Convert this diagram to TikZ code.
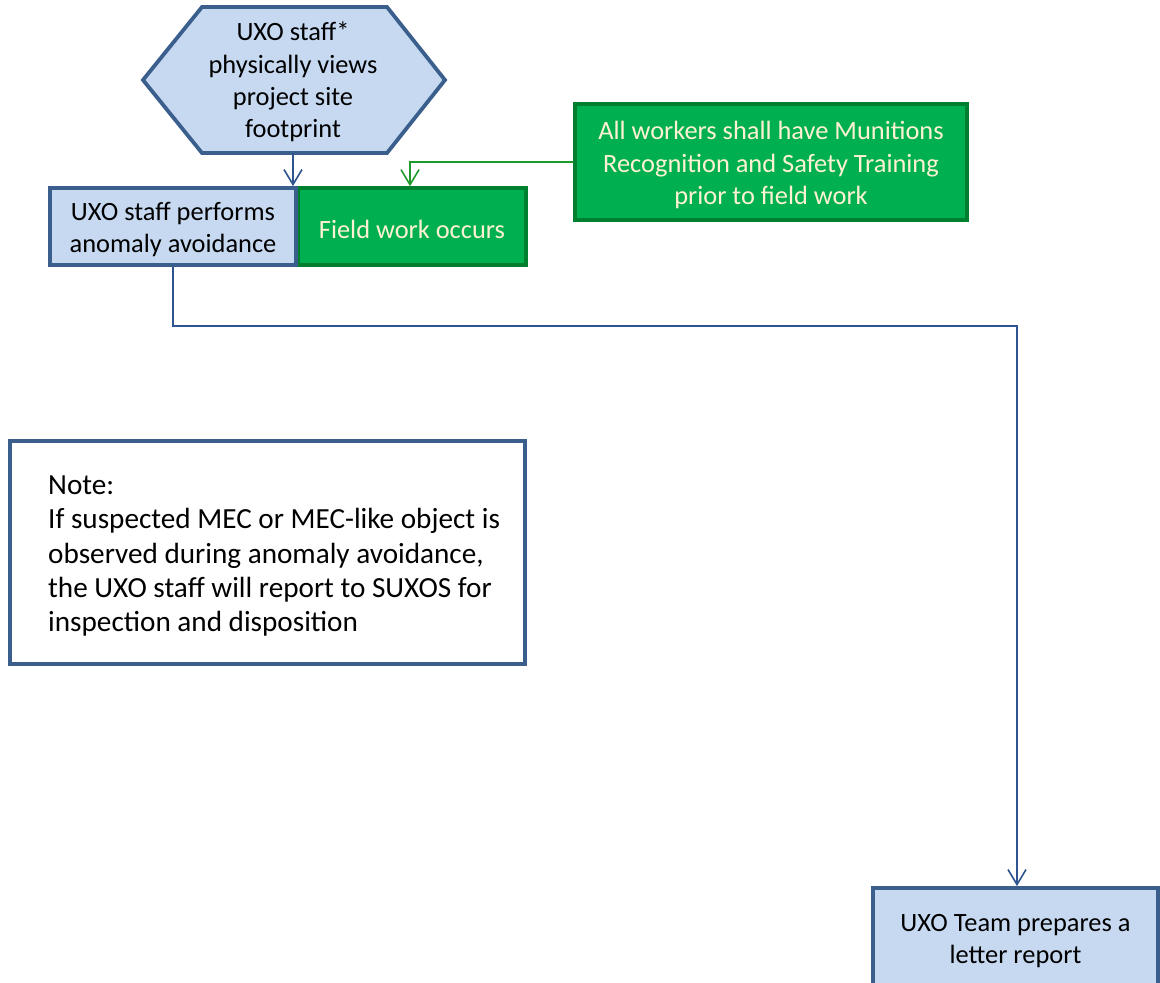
\documentclass[tikz,border=0pt]{standalone}
\usepackage{fontspec}
\setmainfont{Carlito}
\usetikzlibrary{arrows.meta}
\definecolor{bborder}{HTML}{3A5F8C}
\definecolor{bfill}{HTML}{C6D9F1}
\definecolor{gfill}{HTML}{00B050}
\definecolor{gborder}{HTML}{00802F}
\definecolor{gline}{HTML}{1E9A2A}
\definecolor{gtext}{HTML}{FFF2D4}
\definecolor{bline}{HTML}{2F5590}
\newcommand{\lowerline}{\rule{0pt}{24.5pt}}
\tikzset{
  boxfont/.style={font=\fontsize{26.4}{32.2}\selectfont},
  bluebox/.style={draw=bborder, fill=bfill, line width=3.8pt, boxfont, align=center, inner sep=0pt, text=black},
  greenbox/.style={draw=gborder, fill=gfill, line width=3.6pt, boxfont, align=center, inner sep=0pt, text=gtext},
  notebox/.style={draw=bborder, fill=white, line width=3.8pt, inner sep=0pt},
  notetxt/.style={font=\fontsize{29.2}{34.3}\selectfont, align=left, inner sep=0pt, text=black},
  bluearrow/.style={draw=bline, line width=1.6pt, -{Straight Barb[length=15pt,width=18pt,line width=1.6pt]}},
  greenarrow/.style={draw=gline, line width=1.6pt, -{Straight Barb[length=15pt,width=18pt,line width=1.6pt]}},
}
\begin{document}
\begin{tikzpicture}[x=1pt,y=-1pt]
\useasboundingbox (0,0) rectangle (1160,983);
\clip (0,0) rectangle (1160,983);
% hexagon
\draw[draw=bborder, fill=bfill, line width=3.8pt, line join=miter]
  (143,80) -- (202,7) -- (387,7) -- (445,80) -- (387,153) -- (202,153) -- cycle;
\node[boxfont, align=center, inner sep=0pt] (hex) at (293,82)
  {UXO staff*\\physically views\\project site\\footprint};
\coordinate (hexb) at (293,153);
% boxes
\node[greenbox, minimum width=228pt, minimum height=77pt] (field) at (412,226.5) {\lowerline Field work occurs};
\node[bluebox, minimum width=246pt, minimum height=77pt] (avoid) at (173,226.5) {\lowerline UXO staff performs\\anomaly avoidance};
\node[greenbox, minimum width=392pt, minimum height=116pt] (train) at (771,162)
  {\lowerline All workers shall have Munitions\\Recognition and Safety Training\\prior to field work};
\node[notebox, minimum width=515pt, minimum height=223pt] (note) at (267.5,552.5) {};
\node[notetxt, anchor=west] (notetext) at (48,556) {Note:\\If suspected MEC or MEC-like object is\\observed during anomaly avoidance,\\the UXO staff will report to SUXOS for\\inspection and disposition};
\node[bluebox, minimum width=285pt, minimum height=98pt] (report) at (1015.5,937) {\lowerline UXO Team prepares a\\letter report};
% connectors
\draw[bluearrow] (hexb) -- (hexb |- avoid.north);
\draw[greenarrow] (train.west) -| ([xshift=-2pt]field.north);
\draw[bluearrow] (avoid.south) -- ++(0,59) -| ([xshift=1.5pt]report.north);
\end{tikzpicture}
\end{document}
